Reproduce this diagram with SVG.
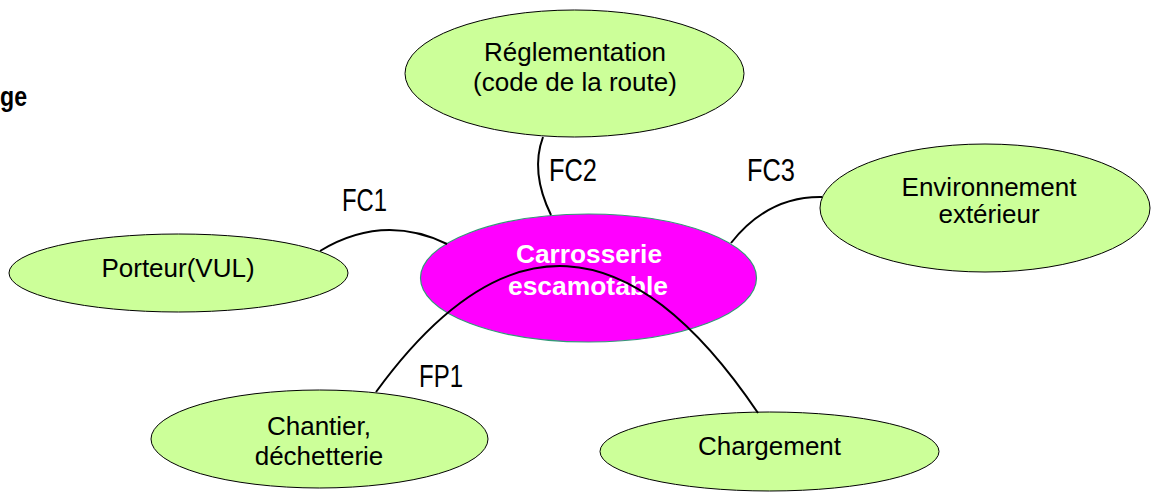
<svg xmlns="http://www.w3.org/2000/svg" width="1157" height="496" viewBox="0 0 1157 496">
<style>
.node{fill:#CCFF99;stroke:#000;stroke-width:1}
.core{fill:#FF00FF;stroke:#339977;stroke-width:1.2}
.t{font-family:"Liberation Sans",Arial,sans-serif;font-size:26px;fill:#000;text-anchor:middle}
.tb{font-family:"Liberation Sans",Arial,sans-serif;font-size:25px;font-weight:bold;fill:#fff;text-anchor:middle}
.lbl{font-family:"Liberation Sans",Arial,sans-serif;font-size:31px;fill:#000}
.c{fill:none;stroke:#000;stroke-width:2}
</style>
<rect width="1157" height="496" fill="#fff"/>
<text x="0" y="106" font-family="Liberation Sans, Arial, sans-serif" font-size="27" font-weight="bold" fill="#000" textLength="27" lengthAdjust="spacingAndGlyphs">ge</text>
<g id="labels">
<text class="lbl" x="342" y="211" textLength="45" lengthAdjust="spacingAndGlyphs">FC1</text>
<text class="lbl" x="549" y="181" textLength="48" lengthAdjust="spacingAndGlyphs">FC2</text>
<text class="lbl" x="747" y="181" textLength="48" lengthAdjust="spacingAndGlyphs">FC3</text>
<text class="lbl" x="419" y="387" textLength="44" lengthAdjust="spacingAndGlyphs">FP1</text>
</g>
<g id="reglementation">
<ellipse class="node" cx="574.5" cy="73.5" rx="169.5" ry="63.5"/>
<text class="t" x="575" y="61">Réglementation</text>
<text class="t" x="575" y="91">(code de la route)</text>
</g>
<g id="environnement">
<ellipse class="node" cx="985" cy="208" rx="165" ry="64"/>
<text class="t" x="989" y="196">Environnement</text>
<text class="t" x="989" y="223">extérieur</text>
</g>
<g id="porteur">
<ellipse class="node" cx="178.5" cy="273" rx="169.5" ry="39"/>
<text class="t" x="178" y="277">Porteur(VUL)</text>
</g>
<g id="chantier">
<ellipse class="node" cx="319.5" cy="439" rx="168.5" ry="49"/>
<text class="t" x="319" y="435">Chantier,</text>
<text class="t" x="319" y="465">déchetterie</text>
</g>
<g id="chargement">
<ellipse class="node" cx="769.5" cy="451.5" rx="169.5" ry="39.5"/>
<text class="t" x="769.5" y="455">Chargement</text>
</g>
<g id="carrosserie">
<ellipse class="core" cx="588.5" cy="278" rx="168" ry="64"/>
<text class="tb" x="589" y="263" textLength="146" lengthAdjust="spacingAndGlyphs">Carrosserie</text>
<text class="tb" x="588" y="295" textLength="160" lengthAdjust="spacingAndGlyphs">escamotable</text>
</g>
<g id="connectors">
<path class="c" d="M320,251 Q383,213 447,244"/>
<path class="c" d="M543,137 Q530,172 551,215"/>
<path class="c" d="M731,243 Q768,196 822,197"/>
<path class="c" d="M376,392 Q567,130 758,413"/>
</g>
</svg>
